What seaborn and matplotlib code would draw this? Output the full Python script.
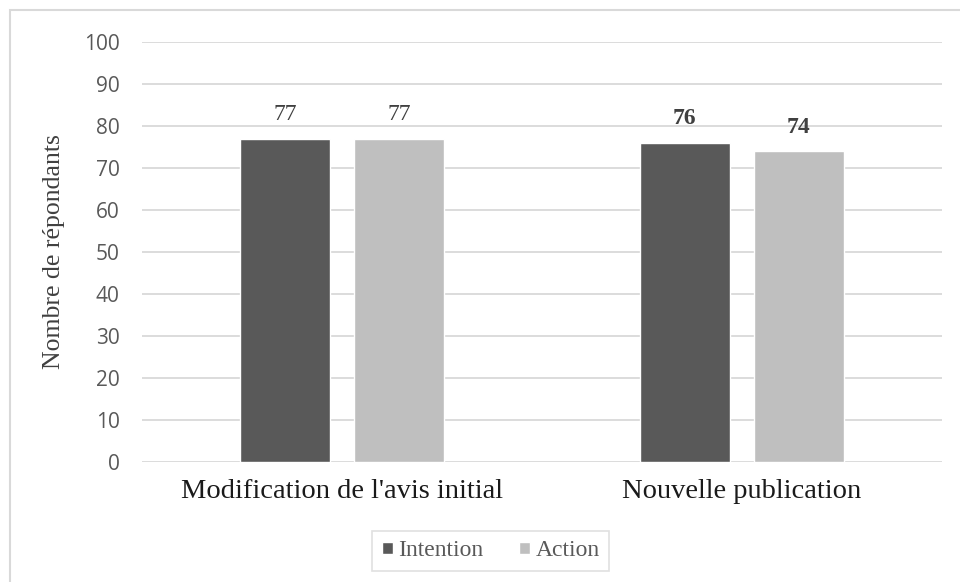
import pandas as pd
import matplotlib
matplotlib.use('Agg')
import matplotlib.pyplot as plt
import seaborn as sns
from matplotlib.patches import Rectangle

categories = ["Modification de l'avis initial", "Nouvelle publication"]
series = ['Intention', 'Action']
intention = [77, 76]
action = [77, 74]
label_bold = [False, True]  # labels of the 2nd group are bold in the original
colors = {'Intention': '#595959', 'Action': '#bfbfbf'}

df = pd.DataFrame({
    'categorie': categories * 2,
    'serie': ['Intention'] * 2 + ['Action'] * 2,
    'valeur': intention + action,
})

sns.set_style('white')
serif = ['Liberation Serif', 'DejaVu Serif']
sans = ['Open Sans', 'DejaVu Sans']

fig = plt.figure(figsize=(9.6, 5.82), dpi=100)
ax = fig.add_axes([0.148, 0.2062, 0.833, 0.7216])

sns.barplot(data=df, x='categorie', y='valeur', hue='serie', hue_order=series,
            palette=colors, width=0.57, gap=0.21, saturation=1,
            legend=True, ax=ax, zorder=3)

# valeurs au-dessus des barres
for cont in ax.containers:
    for i, bar in enumerate(cont):
        h = bar.get_height()
        ax.text(bar.get_x() + bar.get_width() / 2, h + 3.2, '{:.0f}'.format(h),
                ha='center', va='bottom', fontsize=17, color='#404040',
                family=serif, fontweight='bold' if label_bold[i] else 'normal')

ax.set_ylim(0, 100)
ax.set_yticks(range(0, 101, 10))
ax.set_xlim(-0.5, 1.5)
ax.yaxis.grid(True, color='#d9d9d9', linewidth=1.3, zorder=0)
ax.set_axisbelow(True)
for s in ax.spines.values():
    s.set_visible(False)
ax.tick_params(axis='y', length=0, pad=16, labelsize=15, labelcolor='#595959')
ax.tick_params(axis='x', length=0, pad=12, labelsize=20.5, labelcolor='#1a1a1a')
for t in ax.get_yticklabels():
    t.set_family(sans)
for t in ax.get_xticklabels():
    t.set_family(serif)
ax.set_xlabel('')
ax.set_ylabel('Nombre de répondants', family=serif, fontsize=18.5, color='#404040', labelpad=14)

leg = ax.legend(loc='center', bbox_to_anchor=(0.436, (582 - 551 - 120) / 420.0),
                ncol=2, frameon=True, fancybox=False, edgecolor='#d9d9d9',
                prop={'family': serif, 'size': 17}, handlelength=0.45,
                handleheight=0.45, handletextpad=0.25, columnspacing=1.5,
                borderpad=0.4, borderaxespad=0)
leg.get_frame().set_linewidth(1.2)
for t in leg.get_texts():
    t.set_color('#595959')

# cadre extérieur du graphique
fig.patches.append(Rectangle((10 / 960, -0.1), 1.2, 1 - 10 / 582 + 0.1,
                             transform=fig.transFigure, fill=False,
                             edgecolor='#d9d9d9', linewidth=1.5))

fig.savefig('out.png', dpi=100)
